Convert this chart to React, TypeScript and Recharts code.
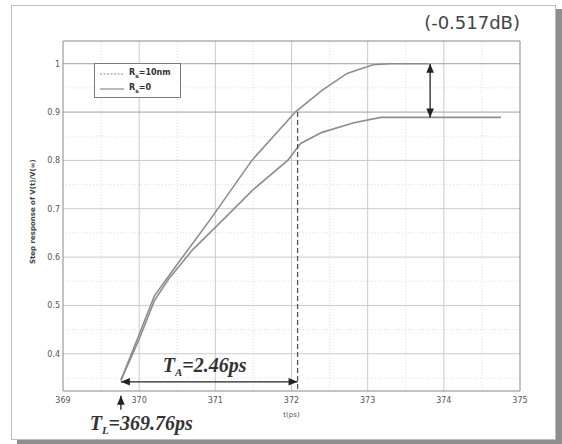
import React from 'react';
import { LineChart, Line, XAxis, YAxis, ReferenceLine, ReferenceDot, Legend } from 'recharts';

// ---- axis values ----
const xTicks = [369, 370, 371, 372, 373, 374, 375];
const yTicks = [0.4, 0.5, 0.6, 0.7, 0.8, 0.9, 1];
const xMinor = [369.5, 370.5, 371.5, 372.5, 373.5, 374.5];
const yMinor = [0.35, 0.45, 0.55, 0.65, 0.75, 0.85, 0.95];
const xDomain: [number, number] = [369, 375];
const yDomain: [number, number] = [0.323, 1.047];

// ---- series (t in ps, normalised step response) ----
const rsZeroT = [369.76, 370.0, 370.2, 370.5, 370.93, 371.48, 372.05, 372.4, 372.73, 373.07, 373.3, 373.8];
const rsZeroV = [0.345, 0.44, 0.52, 0.585, 0.677, 0.8, 0.9, 0.945, 0.98, 0.998, 1.0, 1.0];
const rs10T = [369.76, 370.0, 370.2, 370.38, 370.7, 371.1, 371.5, 371.95, 372.12, 372.4, 372.82, 373.17, 374.75];
const rs10V = [0.345, 0.43, 0.51, 0.553, 0.615, 0.677, 0.74, 0.8, 0.835, 0.858, 0.878, 0.889, 0.889];
const seriesNames = ['10nm', '0'];

// ---- annotation values ----
const tLead = 369.76;
const tCross = 372.08;
const arrowLevel = 0.342;
const levelHigh = 1.0;
const levelLow = 0.889;
const level90 = 0.9;
const gainArrowT = 373.82;
const titleText = '(-0.517dB)';
const tAText = '=2.46ps';
const tLText = '=369.76ps';
const yLabelText = 'Step response of V(t)/V(\u221e)';

const rsZeroData = rsZeroT.map((t, i) => ({ t, v: rsZeroV[i] }));
const rs10Data = rs10T.map((t, i) => ({ t, v: rs10V[i] }));

const curveColor = '#8d8d8d';
const arrowColor = '#222';

function arrowShape(heads: 'both' | 'end', color: string, width = 1.3) {
  return (p: any) => {
    const { x1, y1, x2, y2 } = p;
    const a = Math.atan2(y2 - y1, x2 - x1);
    const head = (x: number, y: number, ang: number, k: string) => {
      const L = 9, W = 3.8;
      const bx = x - L * Math.cos(ang), by = y - L * Math.sin(ang);
      const px = -Math.sin(ang) * W, py = Math.cos(ang) * W;
      return <polygon key={k} points={`${x},${y} ${bx + px},${by + py} ${bx - px},${by - py}`} fill={color} />;
    };
    return (
      <g>
        <line x1={x1} y1={y1} x2={x2} y2={y2} stroke={color} strokeWidth={width} />
        {head(x2, y2, a, 'e')}
        {heads === 'both' ? head(x1, y1, a + Math.PI, 's') : null}
      </g>
    );
  };
}

const LegendBox = () => (
  <div style={{ border: '1px solid #7a7a7a', background: '#fff', width: 87, height: 35, boxSizing: 'border-box', fontFamily: 'DejaVu Sans', fontSize: 8, color: '#333', padding: '2px 0 0 5px', lineHeight: '15px' }}>
    {seriesNames.map((n, i) => (
      <div key={n} style={{ display: 'flex', alignItems: 'center', height: 15 }}>
        <svg width={26} height={6}>
          <line x1={0} y1={3} x2={24} y2={3} stroke={curveColor} strokeWidth={1.2} strokeDasharray={i === 0 ? '2 1.5' : undefined} />
        </svg>
        <span style={{ marginLeft: 3, fontWeight: 'bold' }}>R<sub style={{ fontSize: 6 }}>s</sub>={n}</span>
      </div>
    ))}
  </div>
);

export default function App() {
  return (
    <div style={{ position: 'absolute', left: 0, top: 0, width: 562, height: 444, background: '#fff' }}>
      <div style={{ position: 'absolute', left: 11, top: 5, width: 545, height: 435, border: '1px solid #bdbdbd', boxShadow: '6px 4px 0 #8e8e8e', boxSizing: 'border-box', background: '#fff' }} />
      <div style={{ position: 'absolute', left: 0, top: 0 }}>
        <LineChart width={562} height={444} margin={{ top: 41, left: 33, right: 42, bottom: 33 }}>
          <XAxis type="number" dataKey="t" domain={xDomain} ticks={xTicks} allowDataOverflow height={20}
            tickLine={false} tickSize={0} tickMargin={6} stroke="#888"
            tick={{ fontSize: 8, fill: '#555', fontFamily: 'DejaVu Sans' }} />
          <YAxis type="number" dataKey="v" domain={yDomain} ticks={yTicks} allowDataOverflow width={30}
            tickLine={false} tickSize={0} tickMargin={3} stroke="#888"
            tickFormatter={(v: number) => String(Math.round(v * 10) / 10)}
            tick={{ fontSize: 8, fill: '#555', fontFamily: 'DejaVu Sans' }} />
          {xMinor.map((x) => (
            <ReferenceLine key={'xm' + x} x={x} stroke="#dedede" strokeDasharray="1 2" />
          ))}
          {yMinor.map((y) => (
            <ReferenceLine key={'ym' + y} y={y} stroke="#dedede" strokeDasharray="1 2" />
          ))}
          {xTicks.slice(1, -1).map((x) => (
            <ReferenceLine key={'xM' + x} x={x} stroke="#cacaca" />
          ))}
          {yTicks.map((y) => (
            <ReferenceLine key={'yM' + y} y={y} stroke={y === levelHigh || y === level90 ? '#a0a0a0' : '#cacaca'} />
          ))}
          <ReferenceLine y={yDomain[1]} stroke="#888" />
          <ReferenceLine x={xDomain[1]} stroke="#888" />
          <Line data={rsZeroData} dataKey="v" type="linear" stroke={curveColor} strokeWidth={1.6} dot={false} isAnimationActive={false} />
          <Line data={rs10Data} dataKey="v" type="linear" stroke={curveColor} strokeWidth={1.6} dot={false} isAnimationActive={false} />
          <ReferenceLine segment={[{ x: tCross, y: level90 }, { x: tCross, y: yDomain[0] }]} stroke="#555" strokeWidth={1.3} strokeDasharray="5 3" />
          <ReferenceLine segment={[{ x: tLead, y: arrowLevel }, { x: tCross, y: arrowLevel }]} ifOverflow="visible" shape={arrowShape('both', arrowColor)} />
          <ReferenceLine segment={[{ x: gainArrowT, y: levelLow }, { x: gainArrowT, y: levelHigh }]} ifOverflow="visible" shape={arrowShape('both', arrowColor)} />
          <ReferenceLine segment={[{ x: tLead, y: 0.284 }, { x: tLead, y: 0.313 }]} ifOverflow="visible" shape={arrowShape('end', arrowColor)} />
          <ReferenceDot x={370.31} y={0.363} r={0} ifOverflow="visible"
            shape={(p: any) => (
              <text x={p.cx} y={p.cy} fontFamily="Liberation Serif" fontStyle="italic" fontWeight="bold" fontSize={20} fill="#333">
                T<tspan fontSize={11} dy={4}>A</tspan><tspan dy={-4}>{tAText}</tspan>
              </text>
            )} />
          <ReferenceDot x={369.35} y={0.243} r={0} ifOverflow="visible"
            shape={(p: any) => (
              <text x={p.cx} y={p.cy} fontFamily="Liberation Serif" fontStyle="italic" fontWeight="bold" fontSize={20} fill="#333">
                T<tspan fontSize={11} dy={4}>L</tspan><tspan dy={-4}>{tLText}</tspan>
              </text>
            )} />
          <ReferenceDot x={375} y={1.071} r={0} ifOverflow="visible"
            shape={(p: any) => (
              <text x={p.cx} y={p.cy} textAnchor="end" fontFamily="DejaVu Sans" fontSize={18} fill="#444">{titleText}</text>
            )} />
          <ReferenceDot x={372} y={0.27} r={0} ifOverflow="visible"
            shape={(p: any) => (
              <text x={p.cx} y={p.cy} textAnchor="middle" fontFamily="DejaVu Sans" fontSize={7} fill="#555">t(ps)</text>
            )} />
          <ReferenceDot x={368.63} y={0.694} r={0} ifOverflow="visible"
            shape={(p: any) => (
              <text x={p.cx} y={p.cy} textAnchor="middle" transform={`rotate(-90 ${p.cx} ${p.cy})`} fontFamily="DejaVu Sans" fontWeight="bold" fontSize={7} fill="#444">{yLabelText}</text>
            )} />
          <Legend layout="horizontal" verticalAlign="middle" align="center" content={<LegendBox />}
            wrapperStyle={{ left: 94, top: 63, width: 87, height: 35 }} />
        </LineChart>
      </div>
    </div>
  );
}
